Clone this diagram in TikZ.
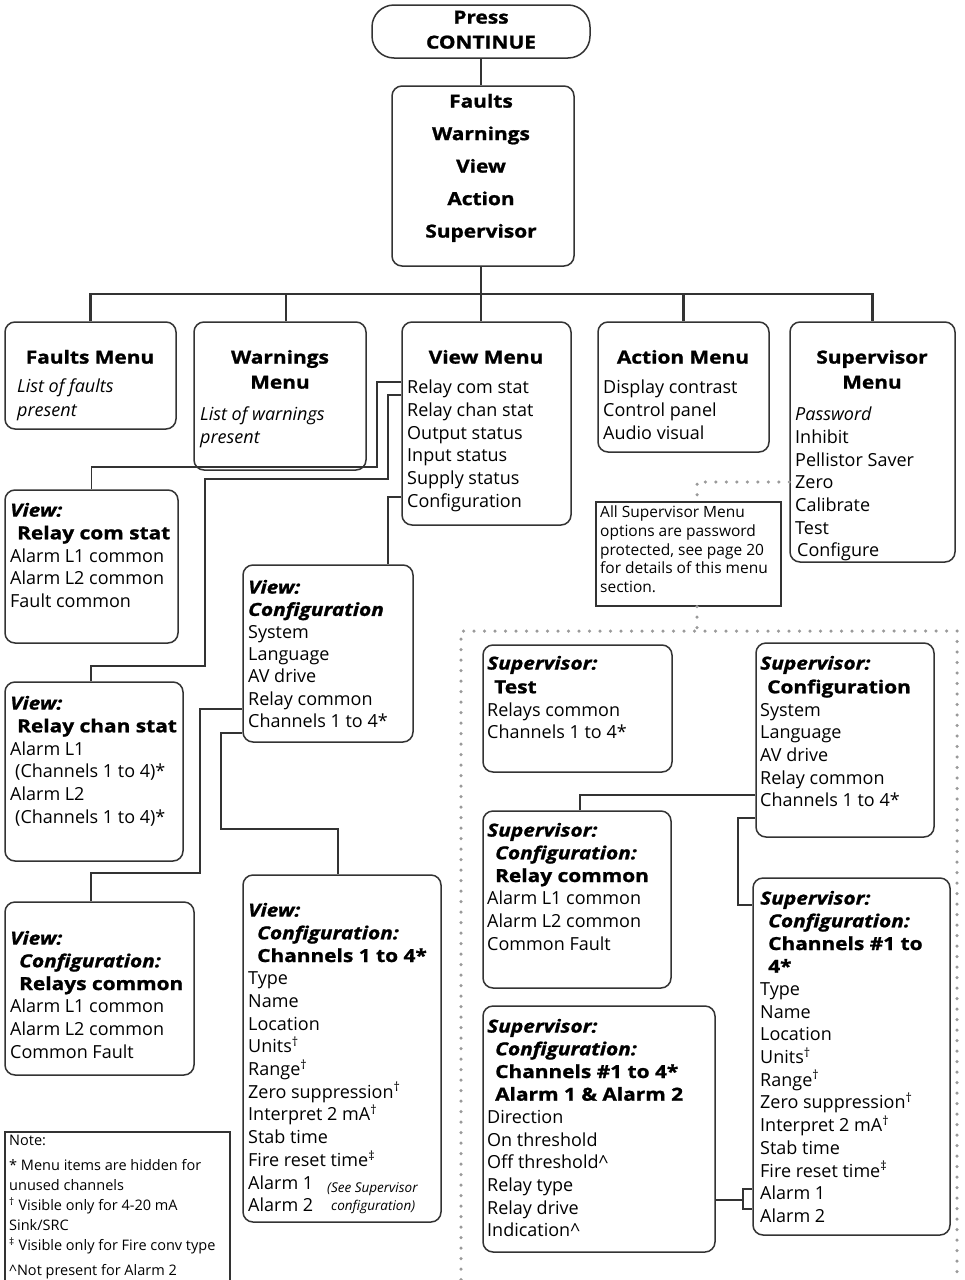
\documentclass[tikz,border=0pt]{standalone}
\usepackage{fontspec}
\setmainfont{Open Sans}[BoldFeatures={FakeStretch=1.16,FakeBold=1.2},BoldItalicFeatures={FakeStretch=1.16,FakeBold=1.2}]
\usetikzlibrary{fit}
\definecolor{ln}{HTML}{333333}
\definecolor{dotc}{HTML}{9A9A9A}
\newcommand\bfit[1]{\textbf{\textit{#1}}}
\newcommand\st{\rule{0pt}{0.8em}}
\begin{document}
\begin{tikzpicture}[x=1pt,y=-1pt,
 box/.style={draw=ln, line width=1.5pt, rounded corners=10pt, inner sep=0pt},
 sqbox/.style={draw=ln, line width=1.3pt, inner sep=0pt},
 main/.style={draw=ln, line width=2.6pt},
 conn/.style={draw=ln, line width=1.5pt},
 dots/.style={draw=dotc, line width=3.5pt, line cap=round, dash pattern=on 0pt off 10.5pt},
 txt/.style={anchor=north west, inner sep=0pt, align=left, font=\fontsize{18}{22.7}\selectfont},
 ttl/.style={anchor=north, inner sep=0pt, align=center, font=\fontsize{18}{25}\selectfont\bfseries},
]
\useasboundingbox (0,0) rectangle (965,1280);
\clip (0,0) rectangle (965,1280);

% ---------- top ----------
\node[box, rounded corners=22pt, fit={(372,5)(590,58)}] (pc) {};
\node[ttl] (pct) at (481,9) {\st Press\\CONTINUE};
\node[box, fit={(392,86)(574,266)}] (mb) {};
\node[ttl, font=\fontsize{18}{32.5}\selectfont\bfseries] (mbt) at (481,93) {\st Faults\\Warnings\\View\\Action\\Supervisor};

% ---------- second row ----------
\node[box, fit={(5,322)(176,429)}] (fm) {};
\node[box, fit={(194,322)(366,470)}] (wm) {};
\node[box, fit={(402,322)(571,525)}] (vm) {};
\node[box, fit={(598,322)(769,452)}] (am) {};
\node[box, fit={(790,322)(955,562)}] (sm) {};

\node[ttl] (fmt) at (90,349) {\st Faults Menu};
\node[txt, font=\fontsize{18}{24}\selectfont\itshape] (fmi) at (17,378) {\st List of faults\\present};
\node[ttl] (wmt) at (280,349) {\st Warnings\\Menu};
\node[txt, font=\fontsize{18}{23}\selectfont\itshape] (wmi) at (200,406) {\st List of warnings\\present};
\node[ttl] (vmt) at (486,349) {\st View Menu};
\node[txt] (vmi) at (407,379) {\st Relay com stat\\Relay chan stat\\Output status\\Input status\\Supply status\\Configuration};
\node[ttl] (amt) at (683,349) {\st Action Menu};
\node[txt] (ami) at (603,379) {\st Display contrast\\Control panel\\Audio visual};
\node[ttl] (smt) at (872,349) {\st Supervisor\\Menu};
\node[txt] (smi) at (795,406) {\st\textit{Password}\\Inhibit\\Pellistor Saver\\Zero\\Calibrate\\Test\\\hspace*{2pt}Configure};

% main connectors
\coordinate (bar) at (481,294);
\coordinate (wj) at (286,294);
\draw[main] (pc.south) -- (pc.south |- mb.north);
\draw[main] (mb.south -| bar) -- (bar);
\draw[main] (fm.north) |- (bar) -| (sm.north);
\draw[main] (bar) -- (bar |- vm.north);
\draw[main] (wj) -- (wj |- wm.north);
\draw[main] (am.north) -- (am.north |- bar);

% ---------- left column ----------
\node[box, fit={(5,490)(178,643)}] (rcs) {};
\node[txt] (rcst) at (10,502) {\st\bfit{View:}\\\hspace*{7pt}\textbf{Relay com stat}\\Alarm L1 common\\Alarm L2 common\\Fault common};
\node[box, fit={(5,682)(183,861)}] (rch) {};
\node[txt] (rcht) at (10,695) {\st\bfit{View:}\\\hspace*{7pt}\textbf{Relay chan stat}\\Alarm L1\\\hspace*{5pt}(Channels 1 to 4)*\\Alarm L2\\\hspace*{5pt}(Channels 1 to 4)*};
\node[box, fit={(5,902)(194,1075)}] (rcm) {};
\node[txt] (rcmt) at (10,930) {\st\bfit{View:}\\\hspace*{9pt}\bfit{Configuration:}\\\hspace*{9pt}\textbf{Relays common}\\Alarm L1 common\\Alarm L2 common\\Common Fault};

\node[sqbox, line width=2pt, fit={(5,1132)(230,1300)}] (note) {};
\node[txt, font=\fontsize{14.5}{20}\selectfont] (notet) at (9,1134) {\st Note:\\[5pt]* Menu items are hidden for\\unused channels\\\textsuperscript{†} Visible only for 4-20 mA\\Sink/SRC\\\textsuperscript{‡} Visible only for Fire conv type\\[5pt]\textasciicircum Not present for Alarm 2};

% ---------- view configuration ----------
\node[box, fit={(243,565)(413,742)}] (vc) {};
\node[txt, font=\fontsize{18}{22.3}\selectfont] (vct) at (248,579) {\st\bfit{View:}\\\bfit{Configuration}\\System\\Language\\AV drive\\Relay common\\Channels 1 to 4*};
\node[box, fit={(243,875)(441,1222)}] (vcc) {};
\node[txt] (vcct) at (248,902) {\st\bfit{View:}\\\hspace*{9pt}\bfit{Configuration:}\\\hspace*{9pt}\textbf{Channels 1 to 4*}\\Type\\Name\\Location\\Units\textsuperscript{†}\\Range\textsuperscript{†}\\Zero suppression\textsuperscript{†}\\Interpret 2 mA\textsuperscript{†}\\Stab time\\Fire reset time\textsuperscript{‡}\\Alarm 1\\Alarm 2};
\node[txt, font=\fontsize{13.5}{18}\selectfont\itshape] (see) at (327,1181) {\st(See Supervisor\\\hspace*{4pt}configuration)};

% view connectors
\draw[conn] (vm.west |- 0,382) -| (377,467) -| (rcs.north);
\draw[conn] (vm.west |- 0,395) -| (388,479) -| (205,666) -| (rch.north -| 91,0);
\draw[conn] (vm.west |- 0,497) -| (vc.north -| 388,0);
\draw[conn] (vc.west |- 0,709) -| (200,873) -| (rcm.north -| 91,0);
\draw[conn] (vc.west |- 0,733) -| (221,829) -| (vcc.north -| 338,0);

% ---------- supervisor ----------
\node[sqbox, fit={(596,502)(781,606)}] (sn) {};
\node[txt, font=\fontsize{15.5}{18.75}\selectfont] (snt) at (600,505) {\st All Supervisor Menu\\options are password\\protected, see page 20\\for details of this menu\\section.};

\coordinate (d1) at (790,482);
\coordinate (d2) at (697,482);
\coordinate (dr) at (697,631);
\draw[dots] (sm.west |- d1) -- (d2) -- (d2 |- sn.north);
\draw[dots] (sn.south -| dr) -- (dr);
\draw[dots] (461,1290) -- (461,631) -- (957,631) -- (957,1290);

\node[box, fit={(483,645)(672,772)}] (st) {};
\node[txt] (stt) at (487,655) {\st\bfit{Supervisor:}\\[1pt]\hspace*{7pt}\textbf{Test}\\Relays common\\Channels 1 to 4*};
\node[box, fit={(756,643)(934,837)}] (sc) {};
\node[txt] (sct) at (760,655) {\st\bfit{Supervisor:}\\[1pt]\hspace*{7pt}\textbf{Configuration}\\System\\Language\\AV drive\\Relay common\\Channels 1 to 4*};
\node[box, fit={(483,811)(671,988)}] (scr) {};
\node[txt] (scrt) at (487,822) {\st\bfit{Supervisor:}\\\hspace*{8pt}\bfit{Configuration:}\\\hspace*{8pt}\textbf{Relay common}\\Alarm L1 common\\Alarm L2 common\\Common Fault};
\node[box, fit={(753,878)(950,1235)}] (scc) {};
\node[txt] (scct) at (760,890) {\st\bfit{Supervisor:}\\\hspace*{8pt}\bfit{Configuration:}\\\hspace*{8pt}\textbf{Channels \#1 to}\\\hspace*{8pt}\textbf{4*}\\Type\\Name\\Location\\Units\textsuperscript{†}\\Range\textsuperscript{†}\\Zero suppression\textsuperscript{†}\\Interpret 2 mA\textsuperscript{†}\\Stab time\\Fire reset time\textsuperscript{‡}\\Alarm 1\\Alarm 2};
\node[box, fit={(483,1006)(715,1252)}] (sca) {};
\node[txt] (scat) at (487,1018) {\st\bfit{Supervisor:}\\\hspace*{8pt}\bfit{Configuration:}\\\hspace*{8pt}\textbf{Channels \#1 to 4*}\\\hspace*{8pt}\textbf{Alarm 1 \& Alarm 2}\\Direction\\On threshold\\Off threshold\textasciicircum\\Relay type\\Relay drive\\Indication\textasciicircum};

% supervisor connectors
\draw[conn] (sc.west |- 0,795) -| (scr.north -| 580,0);
\draw[conn] (sc.west |- 0,818) -| (738,905) -- (scc.west |- 0,905);
\draw[conn] (sca.east |- 0,1200) -- (743,1200);
\draw[conn] (scc.west |- 0,1189) -| (743,1209) -- (scc.west |- 0,1209);
\end{tikzpicture}
\end{document}
